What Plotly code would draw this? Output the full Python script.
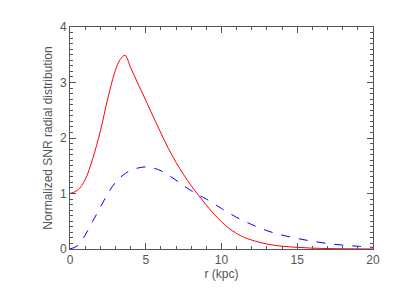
import plotly.graph_objects as go

# radial distance (kpc)
r_red = [0, 0.5, 1.0, 1.5, 2.0, 2.5, 3.0, 3.3, 3.63, 4.0, 4.5, 5.0, 5.5, 6.0,
         6.5, 7.0, 7.5, 8.0, 8.5, 9.0, 9.5, 10, 10.5, 11, 11.5, 12, 13, 14,
         15, 16, 17, 18, 19, 20]
snr_red = [1.0, 1.06, 1.25, 1.63, 2.12, 2.72, 3.22, 3.41, 3.49, 3.27, 2.97,
           2.68, 2.38, 2.09, 1.81, 1.56, 1.34, 1.14, 0.96, 0.79, 0.63, 0.49,
           0.37, 0.28, 0.21, 0.16, 0.09, 0.05, 0.03, 0.015, 0.008, 0.004,
           0.002, 0.001]

r_blue = [0, 0.5, 1.0, 1.5, 2.0, 2.5, 3.0, 3.5, 4.0, 4.5, 5.0, 5.5, 6.0, 6.5,
          7.0, 7.5, 8.0, 8.5, 9.0, 10, 11, 12, 13, 14, 15, 16, 17, 18, 19, 20]
snr_blue = [0, 0.06, 0.25, 0.5, 0.75, 1.0, 1.2, 1.33, 1.42, 1.46, 1.48, 1.46,
            1.41, 1.33, 1.24, 1.14, 1.05, 0.97, 0.9, 0.73, 0.57, 0.44, 0.33,
            0.25, 0.19, 0.14, 0.1, 0.07, 0.05, 0.03]

axis_col = "#555555"
font = dict(family="Liberation Sans, Arial, sans-serif", size=12, color="#555555")

fig = go.Figure()
fig.add_trace(go.Scatter(x=r_red, y=snr_red, mode="lines",
                         line=dict(color="#ff0000", width=1, shape="spline", smoothing=1)))
fig.add_trace(go.Scatter(x=r_blue, y=snr_blue, mode="lines",
                         line=dict(color="#0000ff", width=1, dash="dash", shape="spline")))

common = dict(showgrid=False, zeroline=False, showline=True, linecolor=axis_col,
              linewidth=1, mirror="ticks", ticks="inside", tickcolor=axis_col,
              ticklen=6, tickwidth=1, tickfont=font)

fig.update_xaxes(range=[0, 20], tickvals=[0, 5, 10, 15, 20],
                 minor=dict(dtick=1, ticks="inside", ticklen=3, tickcolor=axis_col),
                 title=dict(text="r (kpc)", font=font, standoff=0), **common)
fig.update_yaxes(range=[0, 4], tickvals=[0, 1, 2, 3, 4],
                 minor=dict(dtick=0.1, ticks="inside", ticklen=3, tickcolor=axis_col),
                 title=dict(text="Normalized SNR radial distribution", font=font, standoff=4),
                 **common)

# page body has an 8px margin, so shift the figure margins to compensate
fig.update_layout(width=393, height=295, showlegend=False,
                  margin=dict(l=62, r=28, t=14, b=54),
                  plot_bgcolor="white", paper_bgcolor="white", font=font)

fig.write_html("out.html")
